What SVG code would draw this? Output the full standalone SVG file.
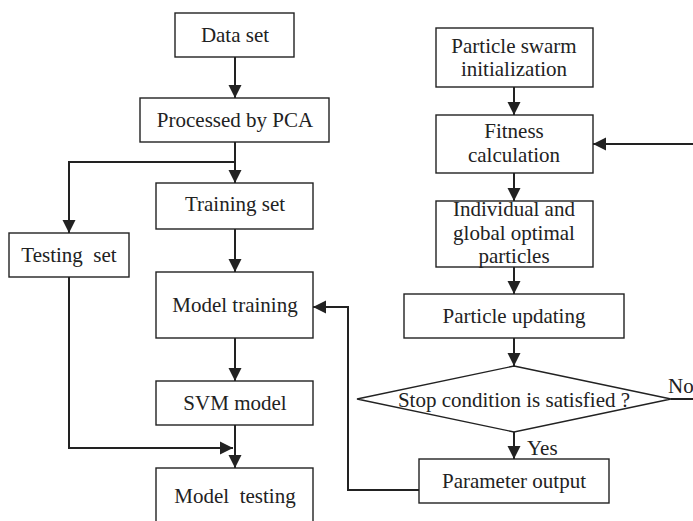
<svg xmlns="http://www.w3.org/2000/svg" width="693" height="521" viewBox="0 0 693 521">
<style>
.box{fill:#fff;stroke:#222;stroke-width:1.4}
.t{font-family:"Liberation Serif","Times New Roman",serif;font-size:21px;fill:#222;text-anchor:middle}
.c{fill:none;stroke:#222;stroke-width:2}
</style>
<defs>
<marker id="ah" markerUnits="userSpaceOnUse" markerWidth="14" markerHeight="14" viewBox="0 0 14 14" refX="13" refY="7" orient="auto">
<path d="M0,0.5 L13,7 L0,13.5 Z" fill="#222"/>
</marker>
</defs>
<rect width="693" height="521" fill="#fff"/>
<g id="connectors">
<line class="c" x1="235" y1="57" x2="235" y2="98" marker-end="url(#ah)"/>
<line class="c" x1="235" y1="142" x2="235" y2="183" marker-end="url(#ah)"/>
<polyline class="c" points="235,162 69,162 69,233" marker-end="url(#ah)"/>
<line class="c" x1="235" y1="229" x2="235" y2="272" marker-end="url(#ah)"/>
<line class="c" x1="235" y1="338" x2="235" y2="381" marker-end="url(#ah)"/>
<line class="c" x1="235" y1="425" x2="235" y2="468" marker-end="url(#ah)"/>
<polyline class="c" points="69,277 69,448 233,448" marker-end="url(#ah)"/>
<polyline class="c" points="420,490 348,490 348,307 313,307" marker-end="url(#ah)"/>
<line class="c" x1="514" y1="87" x2="514" y2="115" marker-end="url(#ah)"/>
<line class="c" x1="514" y1="173" x2="514" y2="201" marker-end="url(#ah)"/>
<line class="c" x1="514" y1="267" x2="514" y2="294" marker-end="url(#ah)"/>
<line class="c" x1="514" y1="338" x2="514" y2="366" marker-end="url(#ah)"/>
<line class="c" x1="514" y1="432" x2="514" y2="459" marker-end="url(#ah)"/>
<line class="c" x1="671" y1="399" x2="693" y2="399"/>
<line class="c" x1="693" y1="144" x2="593" y2="144" marker-end="url(#ah)"/>
<text class="t" x="527" y="455" style="text-anchor:start">Yes</text>
<text class="t" x="668" y="393" style="text-anchor:start">No</text>
</g>
<g id="data-set"><rect class="box" x="175" y="13" width="119" height="44"/><text class="t" x="235" y="42">Data set</text></g>
<g id="pca"><rect class="box" x="140" y="98" width="189" height="44"/><text class="t" x="235" y="127">Processed by PCA</text></g>
<g id="training-set"><rect class="box" x="156" y="183" width="157" height="46"/><text class="t" x="235" y="211">Training set</text></g>
<g id="testing-set"><rect class="box" x="9" y="233" width="120" height="44"/><text class="t" x="69" y="262" xml:space="preserve">Testing  set</text></g>
<g id="model-training"><rect class="box" x="156" y="272" width="157" height="66"/><text class="t" x="235" y="312">Model training</text></g>
<g id="svm-model"><rect class="box" x="156" y="381" width="157" height="44"/><text class="t" x="235" y="410">SVM model</text></g>
<g id="model-testing"><rect class="box" x="156" y="468" width="157" height="60"/><text class="t" x="235" y="503" xml:space="preserve">Model  testing</text></g>
<g id="pso-init"><rect class="box" x="436" y="28" width="157" height="59"/><text class="t" x="514" y="53">Particle swarm</text><text class="t" x="514" y="76">initialization</text></g>
<g id="fitness"><rect class="box" x="436" y="115" width="157" height="58"/><text class="t" x="514" y="138">Fitness</text><text class="t" x="514" y="162">calculation</text></g>
<g id="optimal"><rect class="box" x="436" y="201" width="157" height="66"/><text class="t" x="514" y="216">Individual and</text><text class="t" x="514" y="240">global optimal</text><text class="t" x="514" y="263">particles</text></g>
<g id="updating"><rect class="box" x="404" y="294" width="220" height="44"/><text class="t" x="514" y="323">Particle updating</text></g>
<g id="stop"><polygon class="box" points="514,366 671,399 514,432 357,399"/><text class="t" x="514" y="407">Stop condition is satisfied ?</text></g>
<g id="param-output"><rect class="box" x="419" y="459" width="190" height="44"/><text class="t" x="514" y="488">Parameter output</text></g>
</svg>
